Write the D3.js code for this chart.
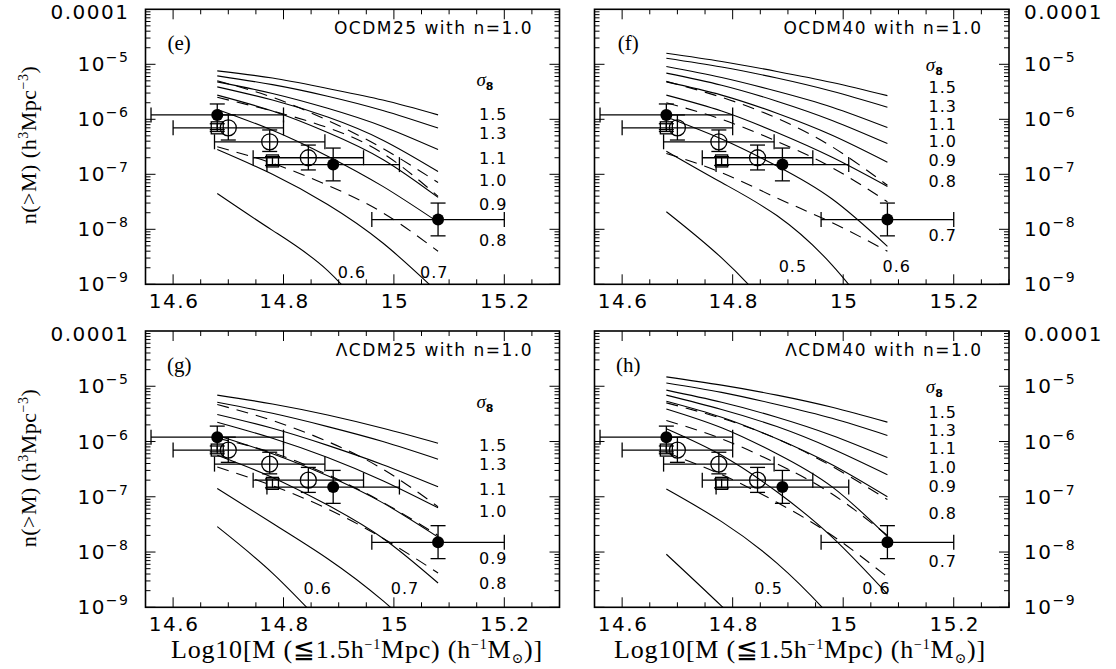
<!DOCTYPE html>
<html><head><meta charset="utf-8">
<script src="https://cdn.jsdelivr.net/npm/d3@7"></script>
<style>
body{margin:0;background:#fff;}
svg text{fill:#000;}
.num{font-family:"DejaVu Sans",sans-serif;font-size:20px;letter-spacing:1.5px;}
.lab{font-family:"DejaVu Sans",sans-serif;font-size:16px;letter-spacing:1px;}
.ser{font-family:"Liberation Serif","DejaVu Serif",serif;}
</style></head><body>
<svg id="c" width="1116" height="669"></svg>
<script>
// ---------- data ----------
const logMassGrid = [14.68, 14.78, 14.88, 14.98, 15.08];
const xMajorTicks = [14.6, 14.8, 15, 15.2];
const xTickLabels = ["14.6", "14.8", "15", "15.2"];
const yDecades = [-4, -5, -6, -7, -8, -9];
const yTickLabels = ["0.0001", "10|−5", "10|−6", "10|−7", "10|−8", "10|−9"];

// observed clusters (filled circles)
const clusterLogM = [14.68, 14.89, 15.08];
const clusterLogMLo = [14.56, 14.77, 14.96];
const clusterLogMHi = [14.80, 15.01, 15.20];
const clusterN = [1.2e-6, 1.5e-7, 1.5e-8];
const clusterNHi = [1.9e-6, 3.0e-7, 3.0e-8];
const clusterNLo = [6.5e-7, 7.6e-8, 7.6e-9];
// open circles
const openLogM = [14.70, 14.775, 14.845];
const openLogMLo = [14.60, 14.675, 14.745];
const openLogMHi = [14.80, 14.875, 14.945];
const openN = [7.0e-7, 3.9e-7, 2.0e-7];
const openNHi = [1.2e-6, 6.4e-7, 3.4e-7];
const openNLo = [4.2e-7, 2.6e-7, 1.2e-7];
// open squares
const squareLogM = [14.68, 14.78];
const squareN = [7.0e-7, 1.75e-7];
const squareNHi = [8.3e-7, 2.1e-7];
const squareNLo = [6.0e-7, 1.45e-7];

// model curves: log10 n(>M) at logMassGrid
const ocdm25Solid = [
  [-5.12,-5.25,-5.44,-5.65,-5.92],
  [-5.21,-5.37,-5.58,-5.84,-6.16],
  [-5.32,-5.53,-5.80,-6.13,-6.55],
  [-5.41,-5.65,-5.96,-6.38,-6.95],
  [-5.56,-5.85,-6.24,-6.73,-7.42],
  [-5.82,-6.20,-6.67,-7.22,-7.87],
  [-6.55,-7.00,-7.55,-8.25,-9.15],
  [-7.35,-8.02,-8.75,-9.90,-11.2]];
const ocdm25Dashed = [
  [-5.30,-5.60,-6.02,-6.53,-7.15],
  [-5.60,-5.85,-6.15,-6.62,-7.40],
  [-6.50,-6.80,-7.20,-7.70,-8.40]];
const ocdm40Solid = [
  [-4.80,-4.95,-5.13,-5.33,-5.57],
  [-4.89,-5.05,-5.25,-5.49,-5.78],
  [-5.04,-5.24,-5.49,-5.78,-6.15],
  [-5.16,-5.38,-5.67,-6.02,-6.44],
  [-5.32,-5.56,-5.89,-6.29,-6.78],
  [-5.56,-5.85,-6.24,-6.69,-7.22],
  [-5.96,-6.36,-6.85,-7.45,-8.31],
  [-6.58,-7.15,-7.75,-8.65,-9.90],
  [-7.68,-8.52,-9.60,-11.0,-12.5]];
const ocdm40Dashed = [
  [-5.31,-5.60,-5.98,-6.50,-7.20],
  [-5.70,-6.00,-6.40,-6.88,-7.50],
  [-6.62,-6.97,-7.43,-7.88,-8.40]];
const lcdm25Solid = [
  [-5.16,-5.32,-5.52,-5.76,-6.03],
  [-5.29,-5.49,-5.73,-6.00,-6.32],
  [-5.51,-5.76,-6.07,-6.42,-6.82],
  [-5.65,-5.94,-6.29,-6.71,-7.20],
  [-5.89,-6.22,-6.62,-7.11,-7.73],
  [-6.25,-6.65,-7.15,-7.75,-8.56],
  [-6.85,-7.48,-8.12,-8.88,-9.80],
  [-7.54,-8.38,-9.40,-10.5,-11.8]];
const lcdm25Dashed = [
  [-5.33,-5.62,-6.00,-6.50,-7.18],
  [-5.94,-6.20,-6.60,-7.10,-7.70],
  [-6.46,-6.80,-7.22,-7.75,-8.38]];
const lcdm40Solid = [
  [-4.83,-4.98,-5.16,-5.38,-5.65],
  [-4.94,-5.11,-5.33,-5.58,-5.89],
  [-5.07,-5.29,-5.56,-5.89,-6.29],
  [-5.16,-5.42,-5.73,-6.13,-6.60],
  [-5.27,-5.56,-5.95,-6.42,-7.00],
  [-5.41,-5.75,-6.22,-6.82,-7.72],
  [-5.77,-6.25,-6.91,-7.73,-8.76],
  [-6.86,-7.45,-8.20,-9.20,-10.4],
  [-8.04,-8.98,-10.0,-11.2,-12.5]];
const lcdm40Dashed = [
  [-5.30,-5.58,-5.95,-6.45,-7.05],
  [-5.62,-5.95,-6.40,-6.95,-7.70],
  [-6.20,-6.60,-7.10,-7.70,-8.45]];

// sigma_8 labels: [text, logM, log n]
const ocdm25Labels = [["1.5",15.18,-5.91],["1.3",15.18,-6.24],["1.1",15.18,-6.71],["1.0",15.18,-7.10],["0.9",15.18,-7.54],["0.8",15.18,-8.20],["0.6",14.924,-8.77],["0.7",15.073,-8.77]];
const ocdm40Labels = [["1.5",15.18,-5.41],["1.3",15.18,-5.76],["1.1",15.18,-6.08],["1.0",15.18,-6.40],["0.9",15.18,-6.74],["0.8",15.18,-7.12],["0.7",15.18,-8.10],["0.5",14.909,-8.66],["0.6",15.097,-8.66]];
const lcdm25Labels = [["1.5",15.18,-6.06],["1.3",15.18,-6.41],["1.1",15.18,-6.86],["1.0",15.18,-7.26],["0.9",15.18,-8.11],["0.8",15.18,-8.56],["0.6",14.862,-8.65],["0.7",15.020,-8.65]];
const lcdm40Labels = [["1.5",15.18,-5.46],["1.3",15.18,-5.80],["1.1",15.18,-6.12],["1.0",15.18,-6.46],["0.9",15.18,-6.81],["0.8",15.18,-7.29],["0.7",15.18,-8.16],["0.5",14.865,-8.65],["0.6",15.060,-8.65]];

const panelTitles = ["OCDM25 with n=1.0","OCDM40 with n=1.0","ΛCDM25 with n=1.0","ΛCDM40 with n=1.0"];
const panelLetters = ["(e)","(f)","(g)","(h)"];

const panels = [
  {title:panelTitles[0], letter:panelLetters[0], solid:ocdm25Solid, dashed:ocdm25Dashed, labels:ocdm25Labels, sigY:-5.29, x0:145.5, x1:559.5, y0:9.3, y1:284.3, side:"left"},
  {title:panelTitles[1], letter:panelLetters[1], solid:ocdm40Solid, dashed:ocdm40Dashed, labels:ocdm40Labels, sigY:-5.01, x0:594.5, x1:1009, y0:9.3, y1:284.3, side:"right"},
  {title:panelTitles[2], letter:panelLetters[2], solid:lcdm25Solid, dashed:lcdm25Dashed, labels:lcdm25Labels, sigY:-5.28, x0:145.5, x1:559.5, y0:331, y1:607.3, side:"left"},
  {title:panelTitles[3], letter:panelLetters[3], solid:lcdm40Solid, dashed:lcdm40Dashed, labels:lcdm40Labels, sigY:-5.01, x0:594.5, x1:1009, y0:331, y1:607.3, side:"right"}
];

const svg = d3.select("#c");
const defs = svg.append("defs");

panels.forEach((p, pi) => {
  const x = d3.scaleLinear().domain([14.55, 15.3]).range([p.x0, p.x1]);
  const y = d3.scaleLog().domain([1e-9, 1e-4]).range([p.y1, p.y0]);
  const g = svg.append("g");
  const cid = "clip" + pi;
  defs.append("clipPath").attr("id", cid).append("rect")
    .attr("x", p.x0).attr("y", p.y0).attr("width", p.x1 - p.x0).attr("height", p.y1 - p.y0);

  // ticks (inside, all four sides)
  const xMinor = d3.range(14.55, 15.3001, 0.05).map(v => +v.toFixed(2));
  xMinor.forEach(v => {
    const major = xMajorTicks.some(t => Math.abs(t - v) < 1e-6);
    const L = major ? 10 : 5;
    g.append("line").attr("x1", x(v)).attr("x2", x(v)).attr("y1", p.y1).attr("y2", p.y1 - L).attr("stroke", "#000").attr("stroke-width", 1);
    g.append("line").attr("x1", x(v)).attr("x2", x(v)).attr("y1", p.y0).attr("y2", p.y0 + L).attr("stroke", "#000").attr("stroke-width", 1);
  });
  for (let e = -9; e <= -5; e++) {
    for (let k = 1; k <= 9; k++) {
      const v = k * Math.pow(10, e);
      const L = k === 1 ? 10 : 5;
      g.append("line").attr("x1", p.x0).attr("x2", p.x0 + L).attr("y1", y(v)).attr("y2", y(v)).attr("stroke", "#000").attr("stroke-width", 1);
      g.append("line").attr("x1", p.x1).attr("x2", p.x1 - L).attr("y1", y(v)).attr("y2", y(v)).attr("stroke", "#000").attr("stroke-width", 1);
    }
  }
  // frame
  g.append("rect").attr("x", p.x0).attr("y", p.y0).attr("width", p.x1 - p.x0).attr("height", p.y1 - p.y0)
    .attr("fill", "none").attr("stroke", "#000").attr("stroke-width", 1.6);

  // x tick labels
  xMajorTicks.forEach((t, i) => {
    g.append("text").attr("class", "num").attr("x", x(t) + 1).attr("y", p.y1 + 24)
      .attr("text-anchor", "middle").text(xTickLabels[i]);
  });
  // y tick labels
  yDecades.forEach((d, i) => {
    const parts = yTickLabels[i].split("|");
    const isLeft = p.side === "left";
    const t = g.append("text").attr("class", "num")
      .attr("x", isLeft ? p.x0 - 16 : p.x1 + 15)
      .attr("y", y(Math.pow(10, d)) + (d === -4 ? 10 : 7))
      .attr("text-anchor", isLeft ? "end" : "start");
    t.append("tspan").text(parts[0]);
    if (parts.length > 1) t.append("tspan").attr("dy", -9).attr("font-size", 14).text(parts[1]);
  });

  // curves
  const line = d3.line().x(d => x(d[0])).y(d => y(Math.pow(10, d[1]))).curve(d3.curveNatural);
  const cg = g.append("g").attr("clip-path", `url(#${cid})`);
  p.solid.forEach(arr => {
    cg.append("path").attr("d", line(logMassGrid.map((m, i) => [m, arr[i]])))
      .attr("fill", "none").attr("stroke", "#000").attr("stroke-width", 1.1);
  });
  p.dashed.forEach(arr => {
    cg.append("path").attr("d", line(logMassGrid.map((m, i) => [m, arr[i]])))
      .attr("fill", "none").attr("stroke", "#000").attr("stroke-width", 1.1).attr("stroke-dasharray", "12,8");
  });

  // data: error bars
  const eb = g.append("g").attr("stroke", "#000").attr("stroke-width", 1.3).attr("fill", "none");
  const cap = 7.5;
  function hbar(m0, m1, n) {
    eb.append("line").attr("x1", x(m0)).attr("x2", x(m1)).attr("y1", y(n)).attr("y2", y(n));
    eb.append("line").attr("x1", x(m0)).attr("x2", x(m0)).attr("y1", y(n) - cap).attr("y2", y(n) + cap);
    eb.append("line").attr("x1", x(m1)).attr("x2", x(m1)).attr("y1", y(n) - cap).attr("y2", y(n) + cap);
  }
  function vbar(m, n0, n1) {
    eb.append("line").attr("x1", x(m)).attr("x2", x(m)).attr("y1", y(n0)).attr("y2", y(n1));
    eb.append("line").attr("x1", x(m) - cap).attr("x2", x(m) + cap).attr("y1", y(n0)).attr("y2", y(n0));
    eb.append("line").attr("x1", x(m) - cap).attr("x2", x(m) + cap).attr("y1", y(n1)).attr("y2", y(n1));
  }
  openLogM.forEach((m, i) => { hbar(openLogMLo[i], openLogMHi[i], openN[i]); vbar(m, openNLo[i], openNHi[i]); });
  squareLogM.forEach((m, i) => { vbar(m, squareNLo[i], squareNHi[i]); });
  clusterLogM.forEach((m, i) => { hbar(clusterLogMLo[i], clusterLogMHi[i], clusterN[i]); vbar(m, clusterNLo[i], clusterNHi[i]); });
  openLogM.forEach((m, i) => {
    g.append("circle").attr("cx", x(m)).attr("cy", y(openN[i])).attr("r", 8)
      .attr("fill", "none").attr("stroke", "#000").attr("stroke-width", 1.3);
  });
  squareLogM.forEach((m, i) => {
    g.append("rect").attr("x", x(m) - 6).attr("y", y(squareN[i]) - 6).attr("width", 12).attr("height", 12)
      .attr("fill", "none").attr("stroke", "#000").attr("stroke-width", 1.3);
  });
  clusterLogM.forEach((m, i) => {
    g.append("circle").attr("cx", x(m)).attr("cy", y(clusterN[i])).attr("r", 6).attr("fill", "#000");
  });

  // texts
  g.append("text").attr("class", "num").attr("x", x(15.252)).attr("y", y(Math.pow(10, -4.33)) + 7)
    .attr("text-anchor", "end").style("font-size", "17px").text(p.title);
  g.append("text").attr("class", "ser").attr("x", x(14.611)).attr("y", y(Math.pow(10, -4.613)) + 7)
    .attr("text-anchor", "middle").style("font-size", "21px").text(p.letter);
  const sg = g.append("text").attr("class", "ser").attr("x", x(15.165)).attr("y", y(Math.pow(10, p.sigY)) + 6)
    .attr("text-anchor", "middle").style("font-size", "19px");
  sg.append("tspan").attr("font-style", "italic").text("σ");
  sg.append("tspan").attr("dy", 4).attr("font-size", 11).attr("font-weight", "bold").attr("font-family", "DejaVu Sans").text("8");
  p.labels.forEach(l => {
    g.append("text").attr("class", "lab").attr("x", x(l[1])).attr("y", y(Math.pow(10, l[2])) + 6)
      .attr("text-anchor", "middle").text(l[0]);
  });
});

// axis titles
[145, 468].forEach(cy => {
  const t = svg.append("text").attr("class", "ser").style("font-size", "22px")
    .attr("transform", `translate(36,${cy}) rotate(-90)`).attr("text-anchor", "middle").attr("letter-spacing", "0.5px");
  t.append("tspan").text("n(>M)  (h");
  t.append("tspan").attr("dy", -8).attr("font-size", 14).text("3");
  t.append("tspan").attr("dy", 8).text("Mpc");
  t.append("tspan").attr("dy", -8).attr("font-size", 14).text("−3");
  t.append("tspan").attr("dy", 8).text(")");
});
[357, 800].forEach(cx => {
  const t = svg.append("text").attr("class", "ser").style("font-size", "26px")
    .attr("x", cx).attr("y", 658).attr("text-anchor", "middle").attr("letter-spacing", "0.8px");
  t.append("tspan").text("Log10[M (≦1.5h");
  t.append("tspan").attr("dy", -9).attr("font-size", 14).text("−1");
  t.append("tspan").attr("dy", 9).text("Mpc) (h");
  t.append("tspan").attr("dy", -9).attr("font-size", 14).text("−1");
  t.append("tspan").attr("dy", 9).text("M");
  t.append("tspan").attr("dy", 5).attr("font-size", 14).text("⊙");
  t.append("tspan").attr("dy", -5).text(")]");
});
</script></body></html>
